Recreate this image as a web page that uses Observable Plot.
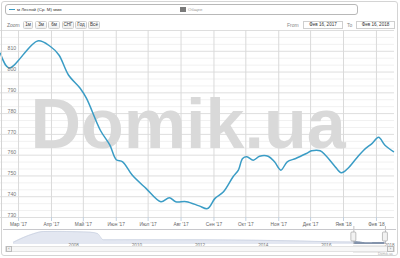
<!DOCTYPE html>
<html>
<head>
<meta charset="utf-8">
<script src="https://cdn.jsdelivr.net/npm/d3@7"></script>
<script src="https://cdn.jsdelivr.net/npm/@observablehq/plot@0.6"></script>
<style>
  html, body { margin: 0; padding: 0; background: #fff; }
  #wrap { position: relative; width: 400px; height: 258px; overflow: hidden; font-family: "Liberation Sans", Arial, sans-serif; background: #fff; }
  #wrap svg { position: absolute; left: 0; }
  .abs { position: absolute; box-sizing: border-box; }
  .t { position: absolute; font-size: 5px; color: #555; white-space: nowrap; line-height: 1; }
  .btn { position: absolute; box-sizing: border-box; height: 8px; top: 21px; border: 1px solid #cfcfcf; border-radius: 1.5px; background: linear-gradient(#fff, #eee); font-size: 4.6px; color: #333; text-align: center; line-height: 6px; }
  .inp { position: absolute; box-sizing: border-box; height: 8px; top: 21px; border: 1px solid #cfcfcf; background: #fff; font-size: 4.6px; color: #333; text-align: center; line-height: 6px; }
</style>
</head>
<body>
<div id="wrap"></div>
<script>
// ---- main series ----
const dates = ["2017-02-12","2017-02-20","2017-03-19","2017-03-31","2017-04-08","2017-04-17","2017-04-28","2017-05-04","2017-05-17","2017-05-26","2017-06-01","2017-06-07","2017-06-16","2017-06-29","2017-07-13","2017-07-21","2017-07-27","2017-08-06","2017-08-18","2017-08-26","2017-09-02","2017-09-10","2017-09-19","2017-09-24","2017-09-28","2017-10-02","2017-10-08","2017-10-14","2017-10-22","2017-10-28","2017-11-03","2017-11-09","2017-11-17","2017-11-27","2017-12-02","2017-12-10","2017-12-15","2017-12-23","2017-12-30","2018-01-05","2018-01-13","2018-01-20","2018-01-28","2018-02-03","2018-02-09","2018-02-17"];
const prices = [809,802,815,812.3,808.2,798.6,792.2,787.3,772,764.8,757.8,756.8,750.4,744,737.6,739.5,737.6,737.6,735.6,734.3,739.2,742.4,749.6,752.8,758.4,759.2,757.6,759.5,759.5,756.8,752.8,756.8,758.4,760.8,762.1,762.1,760,755.2,751.5,753.6,758.4,762.4,765.7,768.6,764.8,761.7];

// ---- axis ticks ----
const yTicks = [730,740,750,760,770,780,790,800,810,820];
const yLabels = [730,740,750,760,770,780,790,800,810];
const monthTicks = ["2017-03-01","2017-04-01","2017-05-01","2017-06-01","2017-07-01","2017-08-01","2017-09-01","2017-10-01","2017-11-01","2017-12-01","2018-01-01","2018-02-01"];
const monthLabels = ["Мар '17","Апр '17","Май '17","Июн '17","Июл '17","Авг '17","Сен '17","Окт '17","Ноя '17","Дек '17","Янв '18","Фев '18"];

// ---- navigator history (earlier years, rough) ----
const navDates = ["2006-05-08","2006-12-25","2007-04-20","2007-10-01","2008-05-01","2008-10-14","2009-01-03","2009-03-13","2010-06-01","2012-04-01","2014-02-01","2015-06-01","2016-06-01","2017-01-01"];
const navValues = [784,1456,1640,1650,1620,1584,1480,976,980,976,936,880,820,800];
const navYears = [2008,2010,2012,2014,2016,2018];

// ---- range selector ----
const selStart = "2017-02-16", selEnd = "2018-02-16";

const parse = s => new Date(s + "T00:00:00Z");
const series = dates.map((d, i) => ({date: parse(d), v: prices[i]}));
const navSeries = navDates.map((d, i) => ({date: parse(d), v: navValues[i]})).concat(series);
const selSeries = series.filter(d => d.date >= parse(selStart) && d.date <= parse(selEnd));
const minor = d3.range(730, 820.01, 10/3).filter(v => Math.abs(v - Math.round(v/10)*10) > 0.1);
const xDom = [parse("2017-02-12"), parse("2018-02-18")];

const wrap = document.getElementById("wrap");

const main = Plot.plot({
  width: 400, height: 258,
  marginTop: 0, marginBottom: 0, marginLeft: 0, marginRight: 0,
  style: {fontFamily: "Liberation Sans, Arial, sans-serif", background: "transparent", color: "#666"},
  x: {type: "utc", domain: xDom, range: [0, 394], axis: null},
  y: {domain: [730, 820], range: [217, 30], axis: null},
  marks: [
    Plot.ruleY(minor, {x1: xDom[0], x2: xDom[1], stroke: "#f1f1f1", strokeWidth: 1}),
    Plot.ruleY(yTicks, {x1: xDom[0], x2: xDom[1], stroke: "#dedede", strokeWidth: 1}),
    Plot.ruleX(monthTicks.map(parse), {y1: 730, y2: 820, stroke: "#dadada", strokeWidth: 1}),
    Plot.ruleX(monthTicks.map(parse), {y1: 730, y2: 730, insetBottom: -4, stroke: "#c0d0e0"}),
    Plot.text(["Domik.ua"], {frameAnchor: "top-left", textAnchor: "start", lineAnchor: "bottom", dx: 30, dy: 147, fontSize: 70, fontWeight: "bold", fill: "#d9d9d9", fontFamily: "Liberation Sans, Arial, sans-serif"}),
    Plot.line(series, {x: "date", y: "v", curve: "catmull-rom", stroke: "#3a9cc5", strokeWidth: 1.5}),
    Plot.text(yLabels, {x: xDom[0], y: d => d, text: d => String(d), textAnchor: "start", dx: 7, dy: -2.5, fontSize: 5.2, fill: "#777"}),
    Plot.text(monthLabels, {x: (d, i) => parse(monthTicks[i]), y: 730, text: d => d, dy: 6.5, fontSize: 4.8, fill: "#666"})
  ]
});
main.style.top = "0px";
wrap.appendChild(main);

// navigator
const nav = Plot.plot({
  width: 400, height: 32,
  marginTop: 0, marginBottom: 0, marginLeft: 0, marginRight: 0,
  style: {fontFamily: "Liberation Sans, Arial, sans-serif", background: "transparent"},
  x: {type: "utc", domain: [parse("2006-01-01"), parse("2018-06-01")], range: [2, 394], axis: null},
  y: {domain: [600, 1800], range: [18, 3], axis: null},
  marks: [
    Plot.areaY(navSeries, {x: "date", y1: 600, y2: "v", fill: "#e3e7f1", curve: "monotone-x"}),
    Plot.lineY(navSeries, {x: "date", y: "v", stroke: "#c3cbdc", strokeWidth: 0.6, curve: "monotone-x"}),
    Plot.areaY(selSeries, {x: "date", y1: 600, y2: "v", fill: "#8393ab"}),
    Plot.text(navYears, {x: d => new Date(Date.UTC(d, 0, 1)), frameAnchor: "top", dy: 17, dx: 3, textAnchor: "start", text: d => String(d), fontSize: 4.6, fill: "#777"}),
    Plot.ruleX([selStart, selEnd].map(parse), {insetTop: 0, insetBottom: 14, stroke: "#b2b1b6", strokeWidth: 0.8}),
    Plot.rect([selStart, selEnd].map(parse), {x1: d => d, x2: d => d, insetLeft: -2.5, insetRight: -2.5, insetTop: 6, insetBottom: 17, fill: "#f2f2f2", stroke: "#999", strokeWidth: 0.6, rx: 1}),
    Plot.rect([{a: parse(selStart), b: parse(selEnd)}], {x1: "a", x2: "b", insetTop: 20, insetBottom: 6, fill: "#f4f4f4", stroke: "#bbb", strokeWidth: 0.6}),
    Plot.text(["≡"], {x: () => new Date((parse(selStart).getTime() + parse(selEnd).getTime())/2), frameAnchor: "top", dy: 22.5, text: d => d, fontSize: 4, fill: "#666"})
  ]
});
nav.style.top = "226px";
wrap.appendChild(nav);

// HTML chrome: frame, legend box, range selector, scrollbar, credits
function add(html) { wrap.insertAdjacentHTML("beforeend", html); }
add('<div class="abs" style="left:1px;top:1px;width:397px;height:255px;border:1px solid #d4d4d4;border-radius:3px;pointer-events:none"></div>');
add('<div class="abs" style="left:5px;top:4px;width:353px;height:11px;border:1px solid #b8b8b8;border-radius:3px;background:#fff"></div>');
add('<div class="abs" style="left:9px;top:9px;width:6px;height:1px;background:#3a9cc5"></div>');
add('<div class="t" style="left:17px;top:7.5px;font-size:4.4px;color:#333">м Лесной (Ср. М) ммв</div>');
add('<div class="abs" style="left:180px;top:7px;width:6px;height:5px;background:#7a7a7a"></div>');
add('<div class="t" style="left:188px;top:7.5px;font-size:4.4px;color:#999">Общее</div>');
add('<div class="t" style="left:7px;top:22.5px;color:#777">Zoom</div>');
const btns = [["1м",23,10],["3м",35,12],["6м",48,12],["СНГ",62,12],["Год",75,12],["Всё",88,12]];
btns.forEach(([t, l, w]) => add(`<div class="btn" style="left:${l}px;width:${w}px">${t}</div>`));
add('<div class="t" style="left:287px;top:22.5px;color:#888">From</div>');
add('<div class="inp" style="left:303px;width:40px">Фев 16, 2017</div>');
add('<div class="t" style="left:347px;top:22.5px;color:#888">To</div>');
add('<div class="inp" style="left:356px;width:39px">Фев 16, 2018</div>');
add('<div class="abs" style="left:3px;top:229px;width:393px;height:1px;background:#c8c8cc"></div>');
add('<div class="abs" style="left:5px;top:246px;width:390px;height:6px;background:#f7f7f7;border:1px solid #e2e2e2"></div>');
add('<div class="abs" style="left:6px;top:246px;width:6px;height:6px;background:#f0f0f0;border:1px solid #bbb;font-size:4px;line-height:4px;text-align:center;color:#666">‹</div>');
add('<div class="abs" style="left:387px;top:246px;width:7px;height:6px;background:#f0f0f0;border:1px solid #bbb;font-size:4px;line-height:4px;text-align:center;color:#666">›</div>');
add('<div class="t" style="left:378px;top:252.5px;font-size:3.5px;color:#aaa">Domik.ua</div>');
</script>
</body>
</html>
